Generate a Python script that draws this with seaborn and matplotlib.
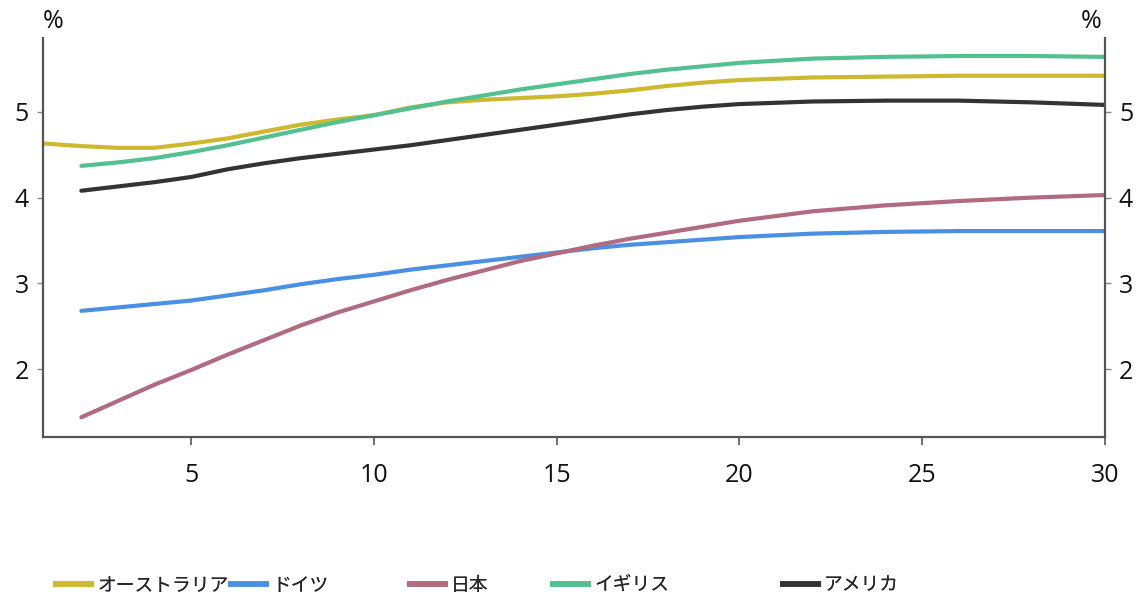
import numpy as np
import pandas as pd
import matplotlib
matplotlib.use("Agg")
import matplotlib.pyplot as plt
from matplotlib.lines import Line2D
import seaborn as sns

# ---- data ----
maturity = [1, 2, 3, 4, 5, 6, 7, 8, 9, 10, 11, 12, 13, 14, 15, 16, 17, 18, 19, 20, 22, 24, 26, 28, 30]
australia = [4.63, 4.60, 4.58, 4.58, 4.63, 4.69, 4.77, 4.85, 4.91, 4.96, 5.05, 5.11, 5.14, 5.16, 5.18,
             5.21, 5.25, 5.30, 5.34, 5.37, 5.40, 5.41, 5.42, 5.42, 5.42]
germany = [None, 2.68, 2.72, 2.76, 2.80, 2.86, 2.92, 2.99, 3.05, 3.10, 3.16, 3.21, 3.26, 3.31, 3.36,
           3.41, 3.45, 3.48, 3.51, 3.54, 3.58, 3.60, 3.61, 3.61, 3.61]
japan = [None, 1.44, 1.63, 1.82, 1.99, 2.17, 2.34, 2.51, 2.66, 2.79, 2.92, 3.04, 3.15, 3.26, 3.35,
         3.44, 3.52, 3.59, 3.66, 3.73, 3.84, 3.91, 3.96, 4.00, 4.03]
uk = [None, 4.37, 4.41, 4.46, 4.53, 4.61, 4.70, 4.79, 4.88, 4.96, 5.04, 5.12, 5.19, 5.26, 5.32,
      5.38, 5.44, 5.49, 5.53, 5.57, 5.62, 5.64, 5.65, 5.65, 5.64]
usa = [None, 4.08, 4.13, 4.18, 4.24, 4.33, 4.40, 4.46, 4.51, 4.56, 4.61, 4.67, 4.73, 4.79, 4.85,
       4.91, 4.97, 5.02, 5.06, 5.09, 5.12, 5.13, 5.13, 5.11, 5.08]

series_names = ["オーストラリア", "ドイツ", "日本", "イギリス", "アメリカ"]
series_values = [australia, germany, japan, uk, usa]
colors = ["#cdb82f", "#4a90e2", "#b06b7f", "#52c08f", "#333333"]

x_ticks = [5, 10, 15, 20, 25, 30]
y_ticks = [2, 3, 4, 5]

rows = []
for name, vals in zip(series_names, series_values):
    for m, v in zip(maturity, vals):
        if v is not None:
            rows.append({"maturity": m, "yield": v, "country": name})
df = pd.DataFrame(rows)

# ---- style ----
sns.set_theme(style="white")
plt.rcParams["font.family"] = ["Open Sans", "Noto Sans CJK JP", "DejaVu Sans"]

fig = plt.figure(figsize=(11.4, 5.97), dpi=100)
ax = fig.add_axes([43 / 1140, 1 - 437 / 597, (1105 - 43) / 1140, (437 - 38) / 597])

sns.lineplot(data=df, x="maturity", y="yield", hue="country", hue_order=series_names,
             palette=colors, linewidth=3.0, ax=ax, legend=False, sort=True)

ax.set_xlim(0.95, 30)
ax.set_ylim(1.21, 5.86)
ax.set_xticks(x_ticks)
ax.set_yticks(y_ticks)
ax.set_xticklabels([str(t) for t in x_ticks], family=["Liberation Sans Narrow", "Open Sans", "DejaVu Sans"],
                   fontsize=18)
ax.set_yticklabels([str(t) for t in y_ticks], fontsize=18)
ax.set_xlabel("")
ax.set_ylabel("")

spine_color = "#555555"
for side in ["left", "right", "bottom"]:
    ax.spines[side].set_visible(True)
    ax.spines[side].set_color(spine_color)
    ax.spines[side].set_linewidth(1.6)
ax.spines["top"].set_visible(False)

ax.tick_params(axis="y", which="major", left=True, right=True, labelleft=True, labelright=True,
               direction="out", length=4, width=1, color="#888888", pad=6, labelcolor="#111111")
ax.tick_params(axis="x", which="major", bottom=True, direction="out", length=6, width=1.2,
               color="#555555", pad=13, labelcolor="#111111")
ax.grid(False)

fig.text(53 / 1140, 1 - 21 / 597, "%", ha="center", va="center", fontsize=18, color="#111111")
fig.text(1091 / 1140, 1 - 21 / 597, "%", ha="center", va="center", fontsize=18, color="#111111")

# ---- legend (individually placed entries) ----
legend_x = [53, 228, 407, 550, 780]
for name, col, lx in zip(series_names, colors, legend_x):
    h = Line2D([], [], color=col, linewidth=4, solid_capstyle="butt")
    lg = fig.legend(handles=[h], labels=[name], loc="center left",
                    bbox_to_anchor=(lx / 1140, 1 - 585 / 597), frameon=False,
                    borderpad=0, borderaxespad=0, handlelength=2.2, handletextpad=0.15,
                    prop={"family": ["Noto Sans CJK JP", "DejaVu Sans"], "size": 13.5})
    fig.add_artist(lg)

fig.savefig("out.png", dpi=100)
